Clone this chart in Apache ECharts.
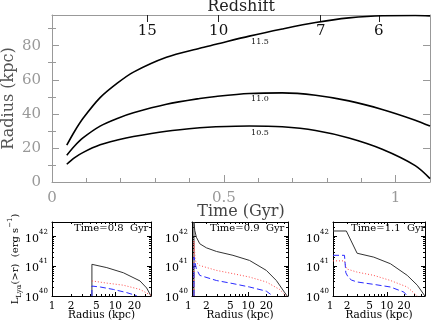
<!DOCTYPE html>
<html>
<head>
<meta charset="utf-8">
<script src="https://cdn.jsdelivr.net/npm/echarts@6/dist/echarts.min.js"></script>
<style>
html, body { margin: 0; padding: 0; background: #fff; }
#main { width: 432px; height: 323px; }
</style>
</head>
<body>
<div id="main"></div>
<script>
// ---- top panel: radius vs time for three halo masses ----
const massLabels = ['11.5', '11.0', '10.5'];
const timeGyr   = [0.043, 0.065, 0.091, 0.14, 0.19, 0.237, 0.333, 0.43, 0.477, 0.574, 0.67, 0.767, 0.864, 0.961, 1.057, 1.1];
const radius115 = [21.6, 29.5, 37.5, 49.5, 58, 64.5, 73.2, 78.5, 80.8, 85.6, 89.8, 93.6, 96.3, 97.6, 97.7, 97.5];
const radius110 = [15.7, 21, 26, 32.8, 37.3, 40.6, 45.6, 49, 50.2, 51.9, 52.3, 50.9, 47.6, 42.6, 36.3, 32.8];
const radius105 = [10.4, 14.2, 17.4, 21.8, 24.6, 26.7, 29.8, 31.8, 32.4, 32.9, 32.4, 30.2, 25.8, 19.2, 9.6, 2];

const timeTicks = [0, 0.5, 1];
const timeMinor = [0.1, 0.2, 0.3, 0.4, 0.6, 0.7, 0.8, 0.9];
const radiusTicks = [0, 20, 40, 60, 80];
const radiusMinor = [10, 30, 50, 70, 90];
const redshiftLabels = ['15', '10', '7', '6'];
const redshiftAt = [0.277, 0.485, 0.782, 0.951]; // time (Gyr) of each redshift tick

// ---- bottom panels: L_Lya(>r) vs radius ----
const panelTitles = ['Time=0.8  Gyr', 'Time=0.9  Gyr', 'Time=1.1  Gyr'];
const panelRange = [[1, 36.6], [1.15, 46], [1.13, 47]];
const rLabels = [1, 2, 5, 10, 20];
const rMajor = [1, 10];
const rMinor = [2, 3, 4, 5, 6, 7, 8, 9, 20, 30, 40];
const lumLabels = [1e40, 1e41, 1e42];
const lumMinor = [2e40, 3e40, 4e40, 5e40, 6e40, 7e40, 8e40, 9e40,
                  2e41, 3e41, 4e41, 5e41, 6e41, 7e41, 8e41, 9e41, 2e42, 3e42];

const p1Black = [[4.27, 1e40], [4.27, 1.15e41], [7.35, 8.9e40], [13.4, 6e40], [24.5, 3.2e40], [31.2, 1.86e40], [36.6, 1e40]];
const p1Red   = [[4.27, 3.2e40], [7.35, 2.7e40], [13.4, 2.3e40], [24.5, 1.66e40], [36.6, 1.05e40]];
const p1Blue  = [[4.27, 1e40], [4.27, 2.15e40], [5.8, 2e40], [9.3, 1.66e40], [15.1, 1.3e40], [21.8, 1.02e40]];

const p2Black = [[1.24, 1e40], [1.24, 3e42], [1.28, 1.55e42], [1.36, 9.3e41], [1.55, 5.6e41], [2.0, 4.1e41], [2.94, 3.1e41],
                 [5.55, 2.3e41], [10.5, 1.55e41], [20, 7.2e40], [29.4, 3.3e40], [40, 1.35e40], [44.6, 1e40]];
const p2Red   = [[1.24, 1e40], [1.24, 7e41], [1.3, 1.6e41], [1.36, 1.3e41], [1.55, 1.05e41], [2.94, 7.2e40],
                 [5.55, 5.6e40], [10.5, 4.3e40], [20, 2.95e40], [33.4, 1.65e40], [43.2, 1e40]];
const p2Blue  = [[1.24, 1e40], [1.24, 2e41], [1.36, 8.1e40], [1.55, 4.9e40], [2.94, 3.3e40], [5.55, 2.6e40],
                 [10.5, 2e40], [20, 1.45e40], [25.8, 1e40]];

const p3Black = [[1.13, 1.5e42], [1.94, 1.5e42], [3.0, 2.7e41], [5.9, 2e41], [11.6, 1.2e41], [22.9, 4.9e40], [34.4, 2.3e40], [46.9, 1e40]];
const p3Red   = [[1.13, 1.5e41], [1.8, 1.5e41], [1.95, 8.1e40], [3.0, 6.3e40], [5.9, 4.9e40], [11.6, 3.3e40], [22.9, 2e40], [34.4, 1e40]];
const p3Blue  = [[1.13, 2.3e41], [1.8, 2.3e41], [1.9, 6e40], [2.1, 4.2e40], [2.4, 3.4e40], [3.0, 2.95e40], [5.9, 2.45e40],
                 [11.6, 2e40], [20, 1.35e40], [22.9, 1e40]];

const panelData = [[p1Black, p1Red, p1Blue], [p2Black, p2Red, p2Blue], [p3Black, p3Red, p3Blue]];

const serif = 'DejaVu Serif';
const grey = '#999';

function axis(o) {
  return Object.assign({
    splitLine: { show: false },
    axisLine: { show: false },
    axisLabel: { show: false },
    axisTick: { show: false },
    nameMoveOverlap: false
  }, o);
}
function line(color) {
  return { show: true, onZero: false, lineStyle: { color: color, width: 1 } };
}
function ticks(vals, len, color) {
  return { show: true, inside: true, length: len, customValues: vals, lineStyle: { color: color, width: 1 } };
}

const grids = [
  { left: 52, right: 2, top: 15, bottom: 141, outerBoundsMode: 'none', containLabel: false },
  { left: 52, top: 222, width: 99, height: 74, outerBoundsMode: 'none', containLabel: false },
  { left: 192, top: 222, width: 96, height: 74, outerBoundsMode: 'none', containLabel: false },
  { left: 333, top: 222, width: 92, height: 74, outerBoundsMode: 'none', containLabel: false }
];

const xAxes = [
  axis({ type: 'value', gridIndex: 0, min: 0, max: 1.1, position: 'bottom',
    axisLine: line(grey), axisTick: ticks(timeTicks, 7, grey),
    axisLabel: { show: true, customValues: timeTicks, color: grey, fontFamily: serif, fontSize: 15, margin: 9 },
    name: 'Time (Gyr)', nameLocation: 'middle', nameGap: 22,
    nameTextStyle: { fontFamily: serif, fontSize: 16, color: '#444' } }),
  axis({ type: 'value', gridIndex: 0, min: 0, max: 1.1, position: 'bottom', axisTick: ticks(timeMinor, 4, grey) }),
  axis({ type: 'value', gridIndex: 0, min: 0, max: 1.1, position: 'top',
    axisLine: line(grey), axisTick: ticks(redshiftAt, 7, '#222'),
    axisLabel: { show: true, inside: true, customValues: redshiftAt, color: '#111', fontFamily: serif, fontSize: 15, margin: 9,
      formatter: function (v) {
        let best = 0;
        redshiftAt.forEach(function (t, i) { if (Math.abs(t - v) < Math.abs(redshiftAt[best] - v)) best = i; });
        return redshiftLabels[best];
      } },
    name: 'Redshift', nameLocation: 'middle', nameGap: 0,
    nameTextStyle: { fontFamily: serif, fontSize: 16, color: '#222' } })
];

const yAxes = [
  axis({ type: 'value', gridIndex: 0, min: 0, max: 98, position: 'left',
    axisLine: line(grey), axisTick: ticks(radiusTicks, 7, grey),
    axisLabel: { show: true, customValues: radiusTicks, color: grey, fontFamily: serif, fontSize: 15, margin: 11 },
    name: 'Radius (kpc)', nameLocation: 'middle', nameGap: 35,
    nameTextStyle: { fontFamily: serif, fontSize: 16, color: '#555' } }),
  axis({ type: 'value', gridIndex: 0, min: 0, max: 98, position: 'left', axisTick: ticks(radiusMinor, 4, grey) }),
  axis({ type: 'value', gridIndex: 0, min: 0, max: 98, position: 'right', axisLine: line(grey), axisTick: ticks(radiusTicks, 7, grey) }),
  axis({ type: 'value', gridIndex: 0, min: 0, max: 98, position: 'right', axisTick: ticks(radiusMinor, 4, grey) })
];

const series = [];
[radius115, radius110, radius105].forEach(function (vals) {
  series.push({
    type: 'line', xAxisIndex: 0, yAxisIndex: 0, showSymbol: false, smooth: 0.3,
    lineStyle: { color: '#000', width: 1.6 },
    data: timeGyr.map(function (t, i) { return [t, vals[i]]; })
  });
});

const seriesStyles = [
  { color: '#333', width: 1, type: 'solid' },
  { color: '#ff4a4a', width: 1, type: [1, 2] },
  { color: '#2a2aff', width: 1, type: [6, 3] }
];

panelData.forEach(function (sets, p) {
  const g = p + 1;
  const xi = xAxes.length, yi = yAxes.length;
  const rng = panelRange[p];
  xAxes.push(
    axis({ type: 'log', gridIndex: g, min: rng[0], max: rng[1], position: 'bottom',
      axisLine: line('#000'), axisTick: ticks(rMajor, 4, '#000'),
      axisLabel: { show: true, customValues: rLabels, color: '#000', fontFamily: serif, fontSize: 10.5, margin: 5 },
      name: 'Radius (kpc)', nameLocation: 'middle', nameGap: 14,
      nameTextStyle: { fontFamily: serif, fontSize: 10.5, color: '#000' } }),
    axis({ type: 'log', gridIndex: g, min: rng[0], max: rng[1], position: 'bottom', axisTick: ticks(rMinor, 2, '#000') }),
    axis({ type: 'log', gridIndex: g, min: rng[0], max: rng[1], position: 'top', axisLine: line('#000'), axisTick: ticks(rMajor, 4, '#000') }),
    axis({ type: 'log', gridIndex: g, min: rng[0], max: rng[1], position: 'top', axisTick: ticks(rMinor, 2, '#000') })
  );
  const left = axis({ type: 'log', gridIndex: g, min: 1e40, max: 3e42, position: 'left',
    axisLine: line('#000'), axisTick: ticks(lumLabels, 4, '#000'),
    axisLabel: { show: true, customValues: lumLabels, margin: 4,
      formatter: function (v) { return '{b|10}{s|' + Math.round(Math.log10(v)) + '}'; },
      rich: {
        b: { fontFamily: serif, fontSize: 11, color: '#000', lineHeight: 16, verticalAlign: 'bottom' },
        s: { fontFamily: serif, fontSize: 7, color: '#000', lineHeight: 9, verticalAlign: 'top' }
      } } });
  if (p === 0) {
    left.name = '{a|L}{sub|Lyα}{a|(>r)  (erg s}{sup|−1}{a|)}';
    left.nameLocation = 'middle';
    left.nameGap = 29;
    left.nameTextStyle = {
      rich: {
        a: { fontFamily: serif, fontSize: 10, color: '#000', lineHeight: 16, verticalAlign: 'middle' },
        sub: { fontFamily: serif, fontSize: 7, color: '#000', lineHeight: 9, verticalAlign: 'bottom' },
        sup: { fontFamily: serif, fontSize: 7, color: '#000', lineHeight: 9, verticalAlign: 'top' }
      }
    };
  }
  yAxes.push(
    left,
    axis({ type: 'log', gridIndex: g, min: 1e40, max: 3e42, position: 'left', axisTick: ticks(lumMinor, 2, '#000') }),
    axis({ type: 'log', gridIndex: g, min: 1e40, max: 3e42, position: 'right', axisLine: line('#000'), axisTick: ticks(lumLabels, 4, '#000') }),
    axis({ type: 'log', gridIndex: g, min: 1e40, max: 3e42, position: 'right', axisTick: ticks(lumMinor, 2, '#000') })
  );
  sets.forEach(function (pts, k) {
    series.push({
      type: 'line', xAxisIndex: xi, yAxisIndex: yi, showSymbol: false,
      lineStyle: seriesStyles[k], data: pts
    });
  });
});

const graphics = [];
const massLabelPos = [[260, 42], [260, 99], [260, 133]];
massLabels.forEach(function (t, i) {
  graphics.push({ type: 'text', x: massLabelPos[i][0], y: massLabelPos[i][1],
    style: { text: t, font: '8px "DejaVu Serif"', fill: '#111', align: 'center', verticalAlign: 'middle' } });
});
const titleLeft = [74, 210, 351];
panelTitles.forEach(function (t, i) {
  graphics.push({ type: 'text', x: titleLeft[i], y: 228.5,
    style: { text: t, font: '10px "DejaVu Serif"', fill: '#000', align: 'left', verticalAlign: 'middle' } });
});

const chart = echarts.init(document.getElementById('main'));
chart.setOption({
  animation: false,
  backgroundColor: '#fff',
  grid: grids,
  xAxis: xAxes,
  yAxis: yAxes,
  series: series,
  graphic: graphics
});

// the "1" radius label sits just left of panels 2 and 3, outside their range
[1, 2].forEach(function (p) {
  const x = chart.convertToPixel({ xAxisIndex: 3 + 4 * p }, 1);
  graphics.push({ type: 'text', x: x, y: 301,
    style: { text: '1', font: '10.5px "DejaVu Serif"', fill: '#000', align: 'center', verticalAlign: 'top' } });
});
chart.setOption({ graphic: graphics });
</script>
</body>
</html>
